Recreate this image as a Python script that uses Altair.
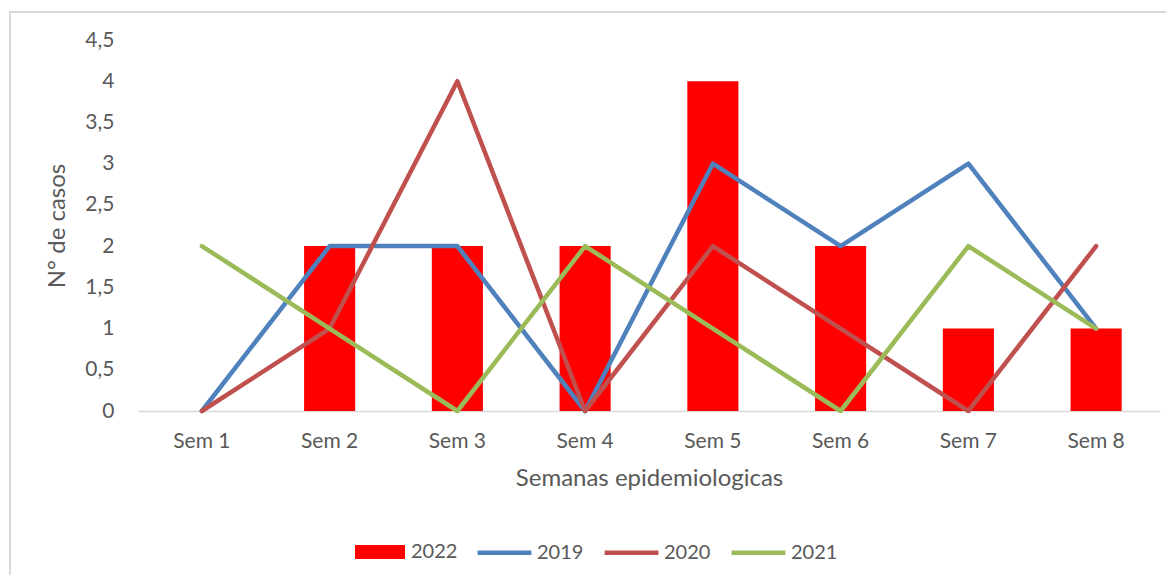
import altair as alt
import pandas as pd

weeks = ["Sem 1", "Sem 2", "Sem 3", "Sem 4", "Sem 5", "Sem 6", "Sem 7", "Sem 8"]
cases_2022 = [0, 2, 2, 2, 4, 2, 1, 1]
cases_2019 = [0, 2, 2, 0, 3, 2, 3, 1]
cases_2020 = [0, 1, 4, 0, 2, 1, 0, 2]
cases_2021 = [2, 1, 0, 2, 1, 0, 2, 1]
y_ticks = [0, 0.5, 1, 1.5, 2, 2.5, 3, 3.5, 4, 4.5]

bar_df = pd.DataFrame({"week": weeks, "value": cases_2022, "series": "2022"})
line_df = pd.concat([
    pd.DataFrame({"week": weeks, "value": cases_2019, "series": "2019", "order": 0}),
    pd.DataFrame({"week": weeks, "value": cases_2020, "series": "2020", "order": 1}),
    pd.DataFrame({"week": weeks, "value": cases_2021, "series": "2021", "order": 2}),
], ignore_index=True)

FONT = "Lato"
GREY = "#595959"

x_enc = alt.X(
    "week:N", sort=weeks,
    scale=alt.Scale(paddingInner=0.6, paddingOuter=0.3),
    axis=alt.Axis(title="Semanas epidemiologicas", labelAngle=0, ticks=False,
                  domainColor="#d9d9d9", domainWidth=1.5, labelPadding=19,
                  titlePadding=15),
)
y_enc = alt.Y(
    "value:Q",
    scale=alt.Scale(domain=[0, 4.5], nice=False),
    axis=alt.Axis(title="N° de casos", values=y_ticks, grid=False, domain=False,
                  ticks=False, labelPadding=24, titlePadding=15,
                  labelExpr="replace(format(datum.value, '.1~f'), '.', ',')"),
)

border = alt.Chart(pd.DataFrame({"a": [0]})).mark_rect(
    fill=None, stroke="#d9d9d9", strokeWidth=2
).encode(
    x=alt.value(-128), x2=alt.value(1100), y=alt.value(-28), y2=alt.value(600)
)

bars = alt.Chart(bar_df).mark_bar().encode(
    x=x_enc,
    y=y_enc,
    fill=alt.Fill(
        "series:N",
        scale=alt.Scale(domain=["2022"], range=["#ff0000"]),
        legend=alt.Legend(
            title=None, orient="none", legendX=217, legendY=487,
            symbolType="M-1,-0.28H1V0.28H-1Z", symbolSize=2500,
            symbolStrokeWidth=0, labelOffset=6,
        ),
    ),
)

lines = alt.Chart(line_df).mark_line(strokeWidth=4.5, strokeCap="round", strokeJoin="round").encode(
    x=alt.X("week:N", sort=weeks),
    y=alt.Y("value:Q"),
    stroke=alt.Stroke(
        "series:N",
        scale=alt.Scale(domain=["2019", "2020", "2021"],
                        range=["#4f81bd", "#c0504d", "#9bbb59"]),
        legend=alt.Legend(
            title=None, orient="none", legendX=337, legendY=483,
            direction="horizontal", symbolType="stroke", symbolSize=2900,
            symbolStrokeWidth=4.5, labelOffset=3, columnPadding=11,
        ),
    ),
    order="order:Q",
)

chart = alt.layer(border, bars, lines).properties(
    width=1022, height=371,
    autosize=alt.AutoSizeParams(type="none"),
    padding={"left": 130, "top": 32, "right": 6, "bottom": 164},
).configure_view(stroke=None).configure_axis(
    labelFont=FONT, titleFont=FONT, labelColor=GREY, titleColor=GREY,
    labelFontSize=21, titleFontSize=24, titleFontWeight="normal",
).configure_legend(
    labelFont=FONT, labelColor=GREY, labelFontSize=20, padding=0,
)

chart.save("out.html", embed_options={"renderer": "svg", "actions": False})
